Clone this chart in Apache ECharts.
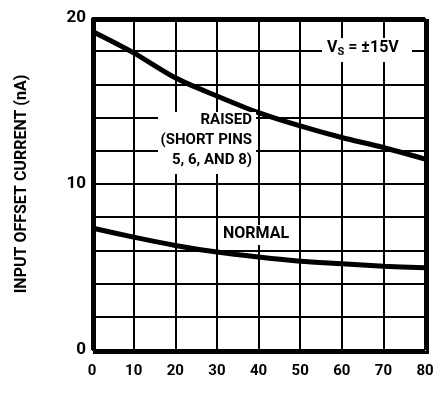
<!DOCTYPE html>
<html>
<head>
<meta charset="utf-8">
<title>Input Offset Current</title>
<script src="https://cdn.jsdelivr.net/npm/echarts@6/dist/echarts.min.js"></script>
<style>
  html, body { margin: 0; padding: 0; background: #fff; }
  #chart { width: 441px; height: 419px; }
</style>
</head>
<body>
<div id="chart"></div>
<script>
// x values (tick positions) and curve readings
var xTicks = [0, 10, 20, 30, 40, 50, 60, 70, 80];
var raised = [19.2, 17.9, 16.4, 15.3, 14.3, 13.5, 12.8, 12.2, 11.5];
var normal = [7.35, 6.8, 6.3, 5.9, 5.6, 5.35, 5.2, 5.05, 4.95];
var yLabels = [0, 10, 20];

var FONT = 'Roboto, "Liberation Sans", sans-serif';

function pairs(vals) {
    return xTicks.map(function (x, i) { return [x, vals[i]]; });
}

// right-aligned annotation lines (right edge at x = 252)
function rightText(txt, top) {
    return { type: 'text', right: 441 - 252, top: top, z: 51,
             style: { text: txt, fill: '#000', font: 'bold 15px ' + FONT } };
}

var chart = echarts.init(document.getElementById('chart'));
chart.setOption({
    animation: false,
    backgroundColor: '#fff',
    grid: { left: 92, right: 16, top: 18, bottom: 69 },
    xAxis: {
        type: 'value',
        min: 0, max: 80, interval: 10,
        axisLine: { show: false },
        axisTick: { show: false },
        splitLine: { lineStyle: { color: '#000', width: 2 } },
        axisLabel: { color: '#000', fontFamily: FONT, fontWeight: 'bold', fontSize: 15, margin: 14 }
    },
    yAxis: {
        type: 'value',
        min: 0, max: 20, interval: 2,
        axisLine: { show: false },
        axisTick: { show: false },
        splitLine: { lineStyle: { color: '#000', width: 2 } },
        axisLabel: {
            color: '#000', fontFamily: FONT, fontWeight: 'bold', fontSize: 17, margin: 6,
            formatter: function (v) { return yLabels.indexOf(v) >= 0 ? String(v) : ''; }
        },
        name: 'INPUT OFFSET CURRENT (nA)',
        nameLocation: 'middle',
        nameGap: 62,
        nameTextStyle: { color: '#000', fontFamily: FONT, fontWeight: 'bold', fontSize: 16 }
    },
    graphic: [
        { type: 'rect', left: 92, top: 18, shape: { width: 333, height: 332 },
          style: { fill: 'none', stroke: '#000', lineWidth: 3 }, z: 100 },
        { type: 'rect', left: 158, top: 112, shape: { width: 98, height: 62 },
          style: { fill: '#fff' }, z: 50 },
        rightText('RAISED', 113),
        rightText('(SHORT PINS', 133),
        rightText('5, 6, AND 8)', 153),
        { type: 'rect', left: 219, top: 225, shape: { width: 79, height: 20 },
          style: { fill: '#fff' }, z: 50 },
        { type: 'text', left: 223, top: 226, z: 51,
          style: { text: 'NORMAL', fill: '#000', font: 'bold 16px ' + FONT } },
        { type: 'rect', left: 322, top: 38, shape: { width: 90, height: 24 },
          style: { fill: '#fff' }, z: 50 },
        { type: 'text', left: 327, top: 40, z: 51,
          style: {
              text: '{v|V}{s|S}{v| = ±15V}', fill: '#000',
              rich: {
                  v: { font: 'bold 16px ' + FONT, fill: '#000' },
                  s: { font: 'bold 11px ' + FONT, fill: '#000', padding: [8, 0, 0, 0] }
              }
          } }
    ],
    series: [
        { name: 'RAISED', type: 'line', smooth: 0.3, symbol: 'none', z: 10,
          lineStyle: { color: '#000', width: 5 }, data: pairs(raised) },
        { name: 'NORMAL', type: 'line', smooth: 0.3, symbol: 'none', z: 10,
          lineStyle: { color: '#000', width: 5 }, data: pairs(normal) }
    ]
});
</script>
</body>
</html>
